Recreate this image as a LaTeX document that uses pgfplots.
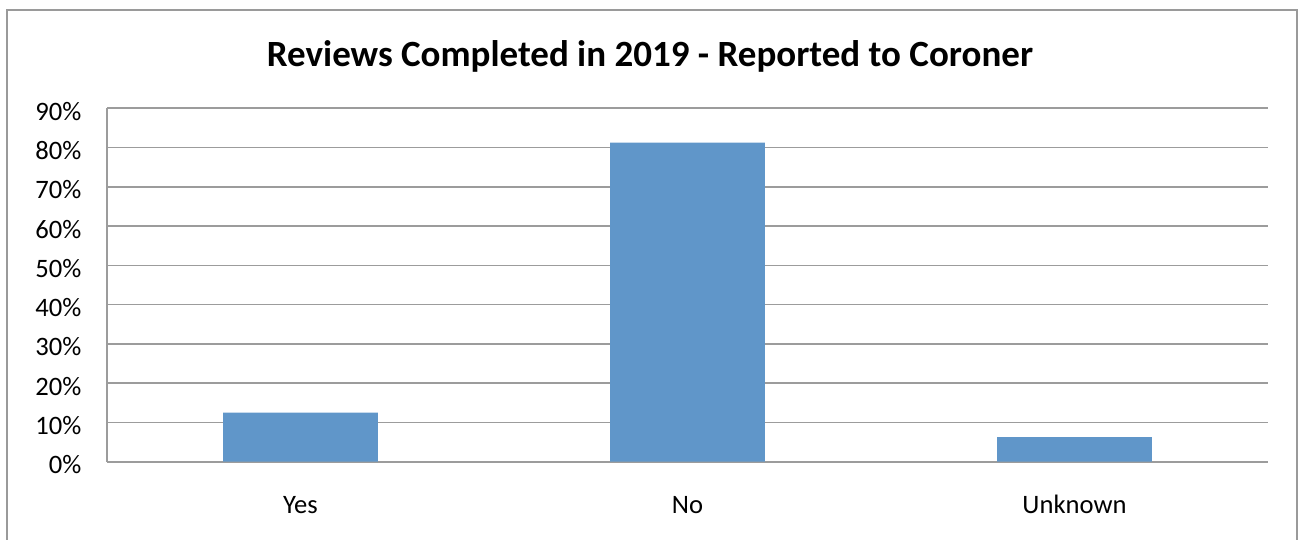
\documentclass[border=0pt]{standalone}
\usepackage{pgfplots}
\pgfplotsset{compat=1.18}
\usepackage{fontspec}
\setmainfont{Carlito}
\definecolor{barblue}{HTML}{6096C9}
\definecolor{gridgray}{HTML}{9C9C9C}
\definecolor{framegray}{HTML}{9A9A9A}
\begin{document}
\begin{tikzpicture}[x=1pt,y=1pt]
\useasboundingbox (0,0) rectangle (649,270);
\draw[framegray, line width=1pt] (3.5,-2) -- (3.5,265) -- (648.25,265) -- (648.25,-2);
\node[anchor=base, font=\fontsize{18.5}{22}\selectfont\bfseries, inner sep=0pt] at (325,236.7) {Reviews Completed in 2019 - Reported to Coroner};
\begin{axis}[
  at={(53.5pt,39.15pt)}, anchor=south west,
  scale only axis, width=580.5pt, height=176.7pt,
  xmin=-0.5, xmax=2.5, ymin=0, ymax=90,
  ytick={0,10,...,90},
  yticklabel={\pgfmathprintnumber{\tick}\%},
  xtick={0,1,2}, xticklabels={Yes,No,Unknown},
  axis x line*=bottom, axis y line*=left,
  axis line style={gridgray, line width=0.85pt, -},
  ymajorgrids, grid style={gridgray, line width=0.85pt},
  major tick length=0pt,
  tick label style={font=\fontsize{13.3}{15}\selectfont, inner sep=0pt},
  yticklabel style={anchor=east, xshift=-12.6pt, yshift=-1.5pt},
  xticklabel style={anchor=base, yshift=-26.15pt},
  /pgf/number format/assume math mode=true,
  ybar, bar width=0.4,
  clip=false,
]
\addplot[fill=barblue, draw=none] coordinates {(0,12.5) (1,81.25) (2,6.25)};
\end{axis}
\end{tikzpicture}
\end{document}
